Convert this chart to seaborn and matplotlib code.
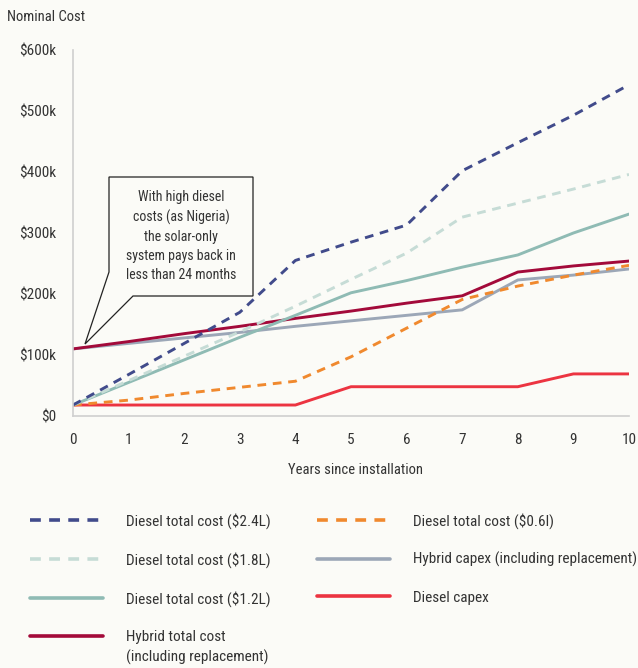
import numpy as np
import pandas as pd
import seaborn as sns
import matplotlib
matplotlib.use("Agg")
import matplotlib.pyplot as plt
from matplotlib import font_manager as fm
from matplotlib.ticker import FuncFormatter
from matplotlib.patches import Polygon
from matplotlib.lines import Line2D

# ---- data (values in $ thousands) ----
years = list(range(11))
diesel_24 = [18, 68, 119, 170, 255, 285, 313, 402, 448, 493, 543]
diesel_18 = [18, 58, 98, 138, 180, 224, 267, 326, 349, 372, 396]
diesel_12 = [18, 55, 92, 129, 165, 202, 222, 244, 264, 300, 331]
hybrid_total = [110, 122, 135, 147, 160, 172, 185, 197, 236, 246, 254]
diesel_06 = [18, 26, 37, 47, 57, 97, 144, 191, 213, 231, 247]
hybrid_capex = [110, 119, 128, 137, 147, 156, 165, 174, 223, 231, 241]
diesel_capex = [18, 18, 18, 18, 18, 48, 48, 48, 48, 69, 69]

labels = ["Diesel total cost ($2.4L)", "Diesel total cost ($1.8L)",
          "Diesel total cost ($1.2L)", "Hybrid total cost\n(including replacement)",
          "Diesel total cost ($0.6l)", "Hybrid capex (including replacement)",
          "Diesel capex"]
series = [diesel_24, diesel_18, diesel_12, hybrid_total, diesel_06, hybrid_capex, diesel_capex]
colors = ["#414b8b", "#c6dcd6", "#8fbbb4", "#a30a3a", "#f0892e", "#9ca7b7", "#ec3441"]
dashed = [True, True, False, False, True, False, False]
ytick_vals = [0, 100, 200, 300, 400, 500, 600]

rows = []
for lab, vals in zip(labels, series):
    for yr, v in zip(years, vals):
        rows.append({"series": lab, "year": yr, "cost": v * 1000})
df = pd.DataFrame(rows)

sns.set_theme(style="white")

# pick a condensed font if one is installed
chosen = None
narrow = [f for f in fm.fontManager.ttflist
          if ("Narrow" in f.name or "Condensed" in f.name or "Narrow" in f.fname
              or "Condensed" in f.fname) and f.style == "normal"
          and str(f.weight) in ("400", "normal", "regular", "book")]
pref = ["Roboto Condensed", "Liberation Sans Narrow", "Open Sans Condensed",
        "Noto Sans Condensed", "DejaVu Sans"]
for p in pref:
    for f in narrow:
        if p in f.name:
            chosen = f
            break
    if chosen:
        break
if chosen is None and narrow:
    chosen = narrow[0]
if chosen is not None:
    fprop = fm.FontProperties(fname=chosen.fname)
    scale = 1.0
else:
    fprop = fm.FontProperties(family="Liberation Sans")
    scale = 0.88

def fp(size):
    p = fprop.copy()
    p.set_size(size * scale)
    return p

bg = "#fbfbf7"
txt = "#333333"
grid_c = "#cfcfcf"

fig = plt.figure(figsize=(6.38, 6.68), dpi=100, facecolor=bg)
ax = fig.add_axes([73 / 638, 1 - 416 / 668, 556 / 638, 366 / 668])
ax.set_facecolor(bg)

palette = dict(zip(labels, colors))
dash_map = {lab: ((3, 2.3) if d else "") for lab, d in zip(labels, dashed)}
draw_order = labels[::-1]
sns.lineplot(data=df, x="year", y="cost", hue="series", style="series",
             hue_order=draw_order, style_order=draw_order,
             palette=palette, dashes=dash_map, linewidth=2.1, legend=False, ax=ax)

ax.set_xlim(0, 10)
ax.set_ylim(0, 600000)
ax.set_xticks(years)
ax.set_yticks([v * 1000 for v in ytick_vals])
ax.yaxis.set_major_formatter(FuncFormatter(lambda v, p: "$0" if v == 0 else f"${int(v/1000)}k"))
for s in ["top", "right"]:
    ax.spines[s].set_visible(False)
for s in ["left", "bottom"]:
    ax.spines[s].set_color(grid_c)
    ax.spines[s].set_linewidth(1.2)
ax.tick_params(axis="both", which="major", direction="out", length=5, width=1.1,
               color=grid_c, labelcolor=txt, pad=7)
for lab in ax.get_xticklabels() + ax.get_yticklabels():
    lab.set_fontproperties(fp(11))
ax.set_xlabel("")
ax.set_ylabel("")

fig.text(7 / 638, 1 - 17 / 668, "Nominal Cost", ha="left", va="center", fontproperties=fp(10.5), color=txt)
fig.text(356 / 638, 1 - 470 / 668, "Years since installation", ha="center", va="center",
         fontproperties=fp(10.5), color=txt)

# callout box
def px2d(px, py):
    return ((px - 73) / 55.6, (416 - py) / 0.61 * 1000)
pts = [px2d(109, 177), px2d(253, 177), px2d(253, 296), px2d(133, 296),
       px2d(85, 344), px2d(109, 272)]
poly = Polygon(pts, closed=True, facecolor=bg, edgecolor="#222222", linewidth=0.9, zorder=5)
ax.add_patch(poly)
cx, cy = px2d(181, 236)
ax.text(cx, cy, "With high diesel\ncosts (as Nigeria)\nthe solar-only\nsystem pays back in\nless than 24 months",
        ha="center", va="center", fontproperties=fp(10), color=txt, linespacing=1.47, zorder=6)

# legend (second line of the hybrid label placed under its first line)
leg_labels = [l.split("\n")[0] for l in labels]
handles = [Line2D([0], [0], color=c, lw=2.6, linestyle=((0, (3, 2.3)) if d else "-"))
           for c, d in zip(colors, dashed)]
LFS = 11
fs_px = LFS * scale * 100 / 72
leg = fig.legend(handles, leg_labels, loc="upper left", bbox_to_anchor=(30 / 638, 1 - 513 / 668),
                 ncol=2, frameon=False, prop=fp(LFS), handlelength=73 / fs_px,
                 handletextpad=23 / fs_px, columnspacing=3.0, labelspacing=1.52,
                 borderpad=0, borderaxespad=0)
for t in leg.get_texts():
    t.set_color(txt)

fig.canvas.draw()
rend = fig.canvas.get_renderer()
ht = leg.get_texts()[3]
bb = ht.get_window_extent(rend)
inv = fig.transFigure.inverted()
x0, yc = inv.transform((bb.x0, (bb.y0 + bb.y1) / 2))
fig.text(x0, yc - 20 / 668, labels[3].split("\n")[1], ha="left", va="center",
         fontproperties=fp(LFS), color=txt)

fig.savefig("out.png", dpi=100, facecolor=bg)
